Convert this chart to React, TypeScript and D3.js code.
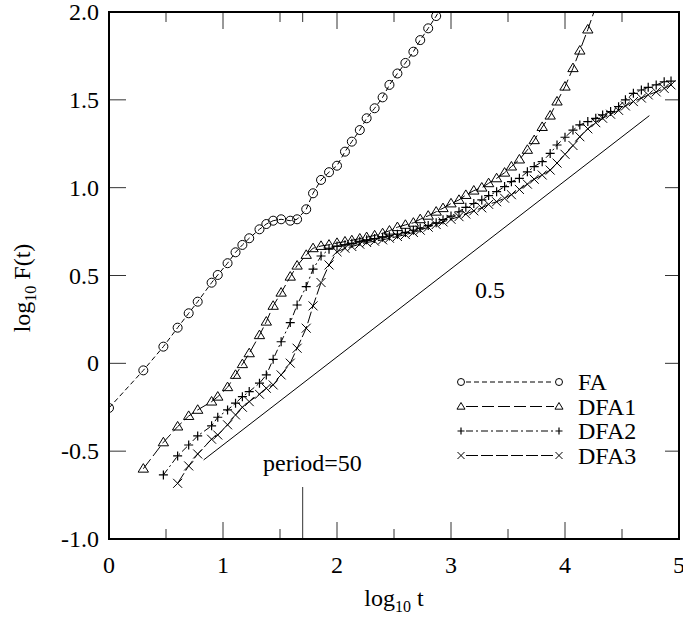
import * as d3 from "d3";

const WIDTH = 683;
const HEIGHT = 617;
const PLOT = { left: 109, right: 679, top: 12, bottom: 539 };

// log10 t positions shared by all series
const xs = [
  0, 0.301, 0.477, 0.602, 0.699, 0.778, 0.9, 0.954, 1.04, 1.11, 1.17, 1.23, 1.32, 1.38,
  1.44, 1.51, 1.59, 1.65, 1.73, 1.79, 1.86, 1.93, 2.0, 2.07, 2.13, 2.2, 2.26, 2.33, 2.4,
  2.46, 2.53, 2.6, 2.67, 2.73, 2.8, 2.87, 2.93, 3.0, 3.07, 3.13, 3.2, 3.27, 3.33, 3.4,
  3.47, 3.53, 3.6, 3.67, 3.73, 3.8, 3.87, 3.93, 4.0, 4.07, 4.13, 4.2, 4.27, 4.33, 4.4,
  4.47, 4.53, 4.6, 4.67, 4.73, 4.8, 4.87, 4.93,
];

// FA starts at xs[0]
const faY = [
  -0.254, -0.04, 0.095, 0.203, 0.285, 0.351, 0.459, 0.503, 0.57, 0.632, 0.674, 0.712,
  0.763, 0.793, 0.812, 0.82, 0.812, 0.82, 0.877, 0.968, 1.044, 1.088, 1.125, 1.205,
  1.262, 1.328, 1.395, 1.452, 1.514, 1.585, 1.65, 1.71, 1.774, 1.84, 1.907, 1.977, 2.04,
];

// DFA1 starts at xs[1]
const dfa1Y = [
  -0.6, -0.45, -0.36, -0.3, -0.265, -0.218, -0.19, -0.136, -0.066, -0.005, 0.057, 0.16,
  0.237, 0.327, 0.402, 0.493, 0.556, 0.617, 0.655, 0.668, 0.675, 0.685, 0.693, 0.7,
  0.71, 0.718, 0.728, 0.74, 0.755, 0.775, 0.788, 0.8, 0.82, 0.84, 0.863, 0.883, 0.91,
  0.93, 0.958, 0.983, 1.0, 1.025, 1.053, 1.085, 1.12, 1.16, 1.215, 1.27, 1.345, 1.41,
  1.49, 1.575, 1.68, 1.78, 1.9, 2.03,
];

// DFA2 starts at xs[2]
const dfa2Y = [
  -0.635, -0.527, -0.465, -0.413, -0.356, -0.307, -0.265, -0.227, -0.19, -0.161, -0.113,
  -0.066, 0.023, 0.123, 0.232, 0.332, 0.437, 0.536, 0.611, 0.65, 0.668, 0.675, 0.683,
  0.695, 0.703, 0.71, 0.718, 0.725, 0.735, 0.745, 0.758, 0.77, 0.785, 0.8, 0.818, 0.838,
  0.863, 0.888, 0.91, 0.93, 0.955, 0.977, 1.006, 1.034, 1.053, 1.09, 1.12, 1.148, 1.195,
  1.243, 1.287, 1.328, 1.357, 1.376, 1.395, 1.414, 1.433, 1.461, 1.5, 1.537, 1.556,
  1.571, 1.585, 1.603, 1.607,
];

// DFA3 starts at xs[3]
const dfa3Y = [
  -0.683, -0.584, -0.516, -0.432, -0.408, -0.35, -0.294, -0.25, -0.218, -0.176, -0.142,
  -0.123, -0.066, 0.001, 0.086, 0.2, 0.327, 0.46, 0.56, 0.635, 0.655, 0.665, 0.678,
  0.688, 0.695, 0.703, 0.712, 0.722, 0.733, 0.745, 0.758, 0.775, 0.79, 0.805, 0.82,
  0.835, 0.85, 0.868, 0.885, 0.905, 0.92, 0.94, 0.96, 0.99, 1.02, 1.048, 1.072, 1.1,
  1.14, 1.19, 1.24, 1.29, 1.335, 1.37, 1.395, 1.418, 1.44, 1.465, 1.49, 1.51, 1.528,
  1.545, 1.565, 1.585,
];

const refLine: [number, number][] = [
  [0.83, -0.55],
  [4.74, 1.41],
];

const xTicks = [0, 1, 2, 3, 4, 5];
const xMinor = [0.5, 1.5, 2.5, 3.5, 4.5];
const yTicks = [-1, -0.5, 0, 0.5, 1, 1.5, 2];
const yTickLabels = ["-1.0", "-0.5", "0", "0.5", "1.0", "1.5", "2.0"];
const periodX = 1.699;

const seriesNames = ["FA", "DFA1", "DFA2", "DFA3"];
const seriesStart = [0, 1, 2, 3];
const seriesY = [faY, dfa1Y, dfa2Y, dfa3Y];
const dashes = ["5,3", "12,4", "7,3,2,3", "12,3"];
const symbols = ["circle", "triangle", "plus", "cross"];

const FONT = "'Liberation Serif', 'Times New Roman', Times, serif";

const Marker = ({ kind, x, y, s }: { kind: string; x: number; y: number; s: number }) => {
  if (kind === "circle") {
    return <circle cx={x} cy={y} r={s} fill="none" stroke="black" strokeWidth={1} />;
  }
  if (kind === "triangle") {
    const h = s * 1.9;
    const w = s * 1.15;
    return (
      <path
        d={`M${x},${y - h * 0.6}L${x + w},${y + h * 0.4}L${x - w},${y + h * 0.4}Z`}
        fill="none"
        stroke="black"
        strokeWidth={1}
      />
    );
  }
  if (kind === "plus") {
    return (
      <path
        d={`M${x - s},${y}H${x + s}M${x},${y - s}V${y + s}`}
        stroke="black"
        strokeWidth={1.2}
      />
    );
  }
  return (
    <path
      d={`M${x - s},${y - s}L${x + s},${y + s}M${x - s},${y + s}L${x + s},${y - s}`}
      stroke="black"
      strokeWidth={1}
    />
  );
};

export default function App() {
  const x = d3.scaleLinear().domain([0, 5]).range([PLOT.left, PLOT.right]);
  const y = d3.scaleLinear().domain([-1, 2]).range([PLOT.bottom, PLOT.top]);

  const line = d3
    .line<[number, number]>()
    .x((d) => x(d[0]))
    .y((d) => y(d[1]));

  const series = seriesNames.map((name, i) => ({
    name,
    dash: dashes[i],
    symbol: symbols[i],
    points: seriesY[i].map((v, j) => [xs[seriesStart[i] + j], v] as [number, number]),
  }));

  const legendY = [382, 406.5, 431, 455.5];

  return (
    <svg
      width={WIDTH}
      height={HEIGHT}
      style={{ position: "absolute", left: 0, top: 0, background: "white", fontFamily: FONT }}
    >
      <defs>
        <clipPath id="plot">
          <rect
            x={PLOT.left}
            y={PLOT.top}
            width={PLOT.right - PLOT.left}
            height={PLOT.bottom - PLOT.top}
          />
        </clipPath>
      </defs>

      {/* ticks */}
      <g stroke="#333" strokeWidth={1}>
        {xTicks.map((t) => (
          <g key={"xt" + t}>
            <line x1={x(t)} x2={x(t)} y1={PLOT.bottom} y2={PLOT.bottom - 17} />
            <line x1={x(t)} x2={x(t)} y1={PLOT.top} y2={PLOT.top + 17} />
          </g>
        ))}
        {xMinor.map((t) => (
          <g key={"xm" + t}>
            <line x1={x(t)} x2={x(t)} y1={PLOT.bottom} y2={PLOT.bottom - 10} />
            <line x1={x(t)} x2={x(t)} y1={PLOT.top} y2={PLOT.top + 10} />
          </g>
        ))}
        {yTicks.map((t) => (
          <g key={"yt" + t}>
            <line x1={PLOT.left} x2={PLOT.left + 17} y1={y(t)} y2={y(t)} />
            <line x1={PLOT.right} x2={PLOT.right - 14} y1={y(t)} y2={y(t)} />
          </g>
        ))}
        <line x1={x(periodX)} x2={x(periodX)} y1={PLOT.top} y2={PLOT.top + 10} />
        <line x1={x(periodX)} x2={x(periodX)} y1={PLOT.bottom} y2={PLOT.bottom - 52} />
      </g>

      {/* data */}
      <g clipPath="url(#plot)">
        <path d={line(refLine) ?? ""} fill="none" stroke="black" strokeWidth={1} />
        {series.map((s) => (
          <g key={s.name}>
            <path
              d={line(s.points) ?? ""}
              fill="none"
              stroke="black"
              strokeWidth={1}
              strokeDasharray={s.dash}
            />
            {s.points.map((p, j) => (
              <Marker key={j} kind={s.symbol} x={x(p[0])} y={y(p[1])} s={4.5} />
            ))}
          </g>
        ))}
      </g>

      {/* frame */}
      <rect
        x={PLOT.left}
        y={PLOT.top}
        width={PLOT.right - PLOT.left}
        height={PLOT.bottom - PLOT.top}
        fill="none"
        stroke="black"
        strokeWidth={2}
      />

      {/* tick labels */}
      <g fontSize={24} fill="black">
        {xTicks.map((t) => (
          <text key={"xl" + t} x={x(t)} y={PLOT.bottom + 34} textAnchor="middle">
            {t}
          </text>
        ))}
        {yTicks.map((t, i) => (
          <text
            key={"yl" + t}
            x={PLOT.left - 10}
            y={y(t)}
            textAnchor="end"
            dominantBaseline="central"
          >
            {yTickLabels[i]}
          </text>
        ))}
      </g>

      {/* axis titles */}
      <text x={394} y={606} textAnchor="middle" fontSize={24}>
        log
        <tspan fontSize={16} dy={6}>
          10
        </tspan>
        <tspan dy={-6}> t</tspan>
      </text>
      <text
        transform={`translate(30,288) rotate(-90)`}
        textAnchor="middle"
        fontSize={24}
      >
        log
        <tspan fontSize={16} dy={6}>
          10
        </tspan>
        <tspan dy={-6}> F(t)</tspan>
      </text>

      {/* annotations */}
      <text x={263} y={471} fontSize={24}>
        period=50
      </text>
      <text x={475} y={298} fontSize={24}>
        0.5
      </text>

      {/* legend */}
      {series.map((s, i) => (
        <g key={"lg" + s.name}>
          <line
            x1={466}
            x2={554}
            y1={legendY[i]}
            y2={legendY[i]}
            stroke="black"
            strokeWidth={1}
            strokeDasharray={s.dash}
          />
          <Marker kind={s.symbol} x={461} y={legendY[i]} s={3.5} />
          <Marker kind={s.symbol} x={559} y={legendY[i]} s={3.5} />
          <text x={578} y={legendY[i]} fontSize={24} dominantBaseline="central">
            {s.name}
          </text>
        </g>
      ))}
    </svg>
  );
}
